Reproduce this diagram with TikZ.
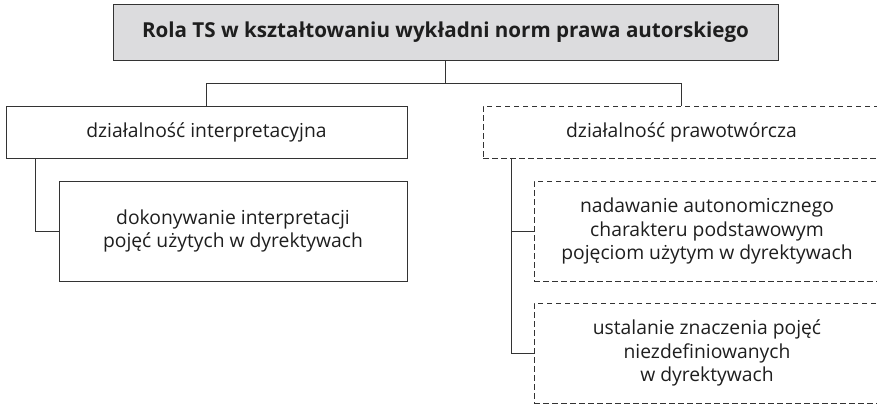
\documentclass[tikz,border=0pt]{standalone}
\usepackage{fontspec}
\setmainfont{Open Sans}
\usetikzlibrary{positioning,calc}
\definecolor{linec}{HTML}{333333}
\definecolor{txtc}{HTML}{1E1E1E}
\definecolor{titlefill}{HTML}{DCDCDE}
\tikzset{
  box/.style={draw=linec, line width=1pt, align=center, text=txtc, inner sep=0pt, font=\fontsize{19.3}{23.8}\selectfont},
  solidbox/.style={box},
  dashbox/.style={box, dash pattern=on 5.5pt off 3.5pt},
  conn/.style={draw=linec, line width=1pt},
}
\begin{document}
\begin{tikzpicture}[x=1pt,y=-1pt]
\useasboundingbox (0,0) rectangle (877,404);
\clip (0,0) rectangle (877,404);
\node[box, fill=titlefill, minimum width=665pt, minimum height=55pt, font=\bfseries\fontsize{20.6}{24}\selectfont] (top) at (445.5,32.5) {Rola TS w kształtowaniu wykładni norm prawa autorskiego};
\node[solidbox, minimum width=401pt, minimum height=52pt] (left) at (206.5,132) {działalność interpretacyjna};
\node[solidbox, minimum width=348pt, minimum height=100pt] (subL) at (233,231) {dokonywanie interpretacji\\pojęć użytych w dyrektywach};
\node[dashbox, minimum width=397pt, minimum height=52pt] (right) at (681.5,132) {działalność prawotwórcza};
\node[dashbox, minimum width=346pt, minimum height=100pt] (subR1) at (707,231) {nadawanie autonomicznego\\charakteru podstawowym\\pojęciom użytym w dyrektywach};
\node[dashbox, minimum width=346pt, minimum height=100pt] (subR2) at (707,353) {ustalanie znaczenia pojęć\\niezdefiniowanych\\w dyrektywach};
\coordinate (hub) at ($(top.south)+(0,23)$);
\coordinate (lt) at ([xshift=30pt]left.south west);
\coordinate (rt) at ([xshift=29pt]right.south west);
\draw[conn] (top.south) -- (hub);
\draw[conn] (left.north) |- (hub) -| (right.north);
\draw[conn] (lt) |- (subL.west);
\draw[conn] (rt) |- (subR1.west);
\draw[conn] (rt) |- (subR2.west);
\end{tikzpicture}
\end{document}
